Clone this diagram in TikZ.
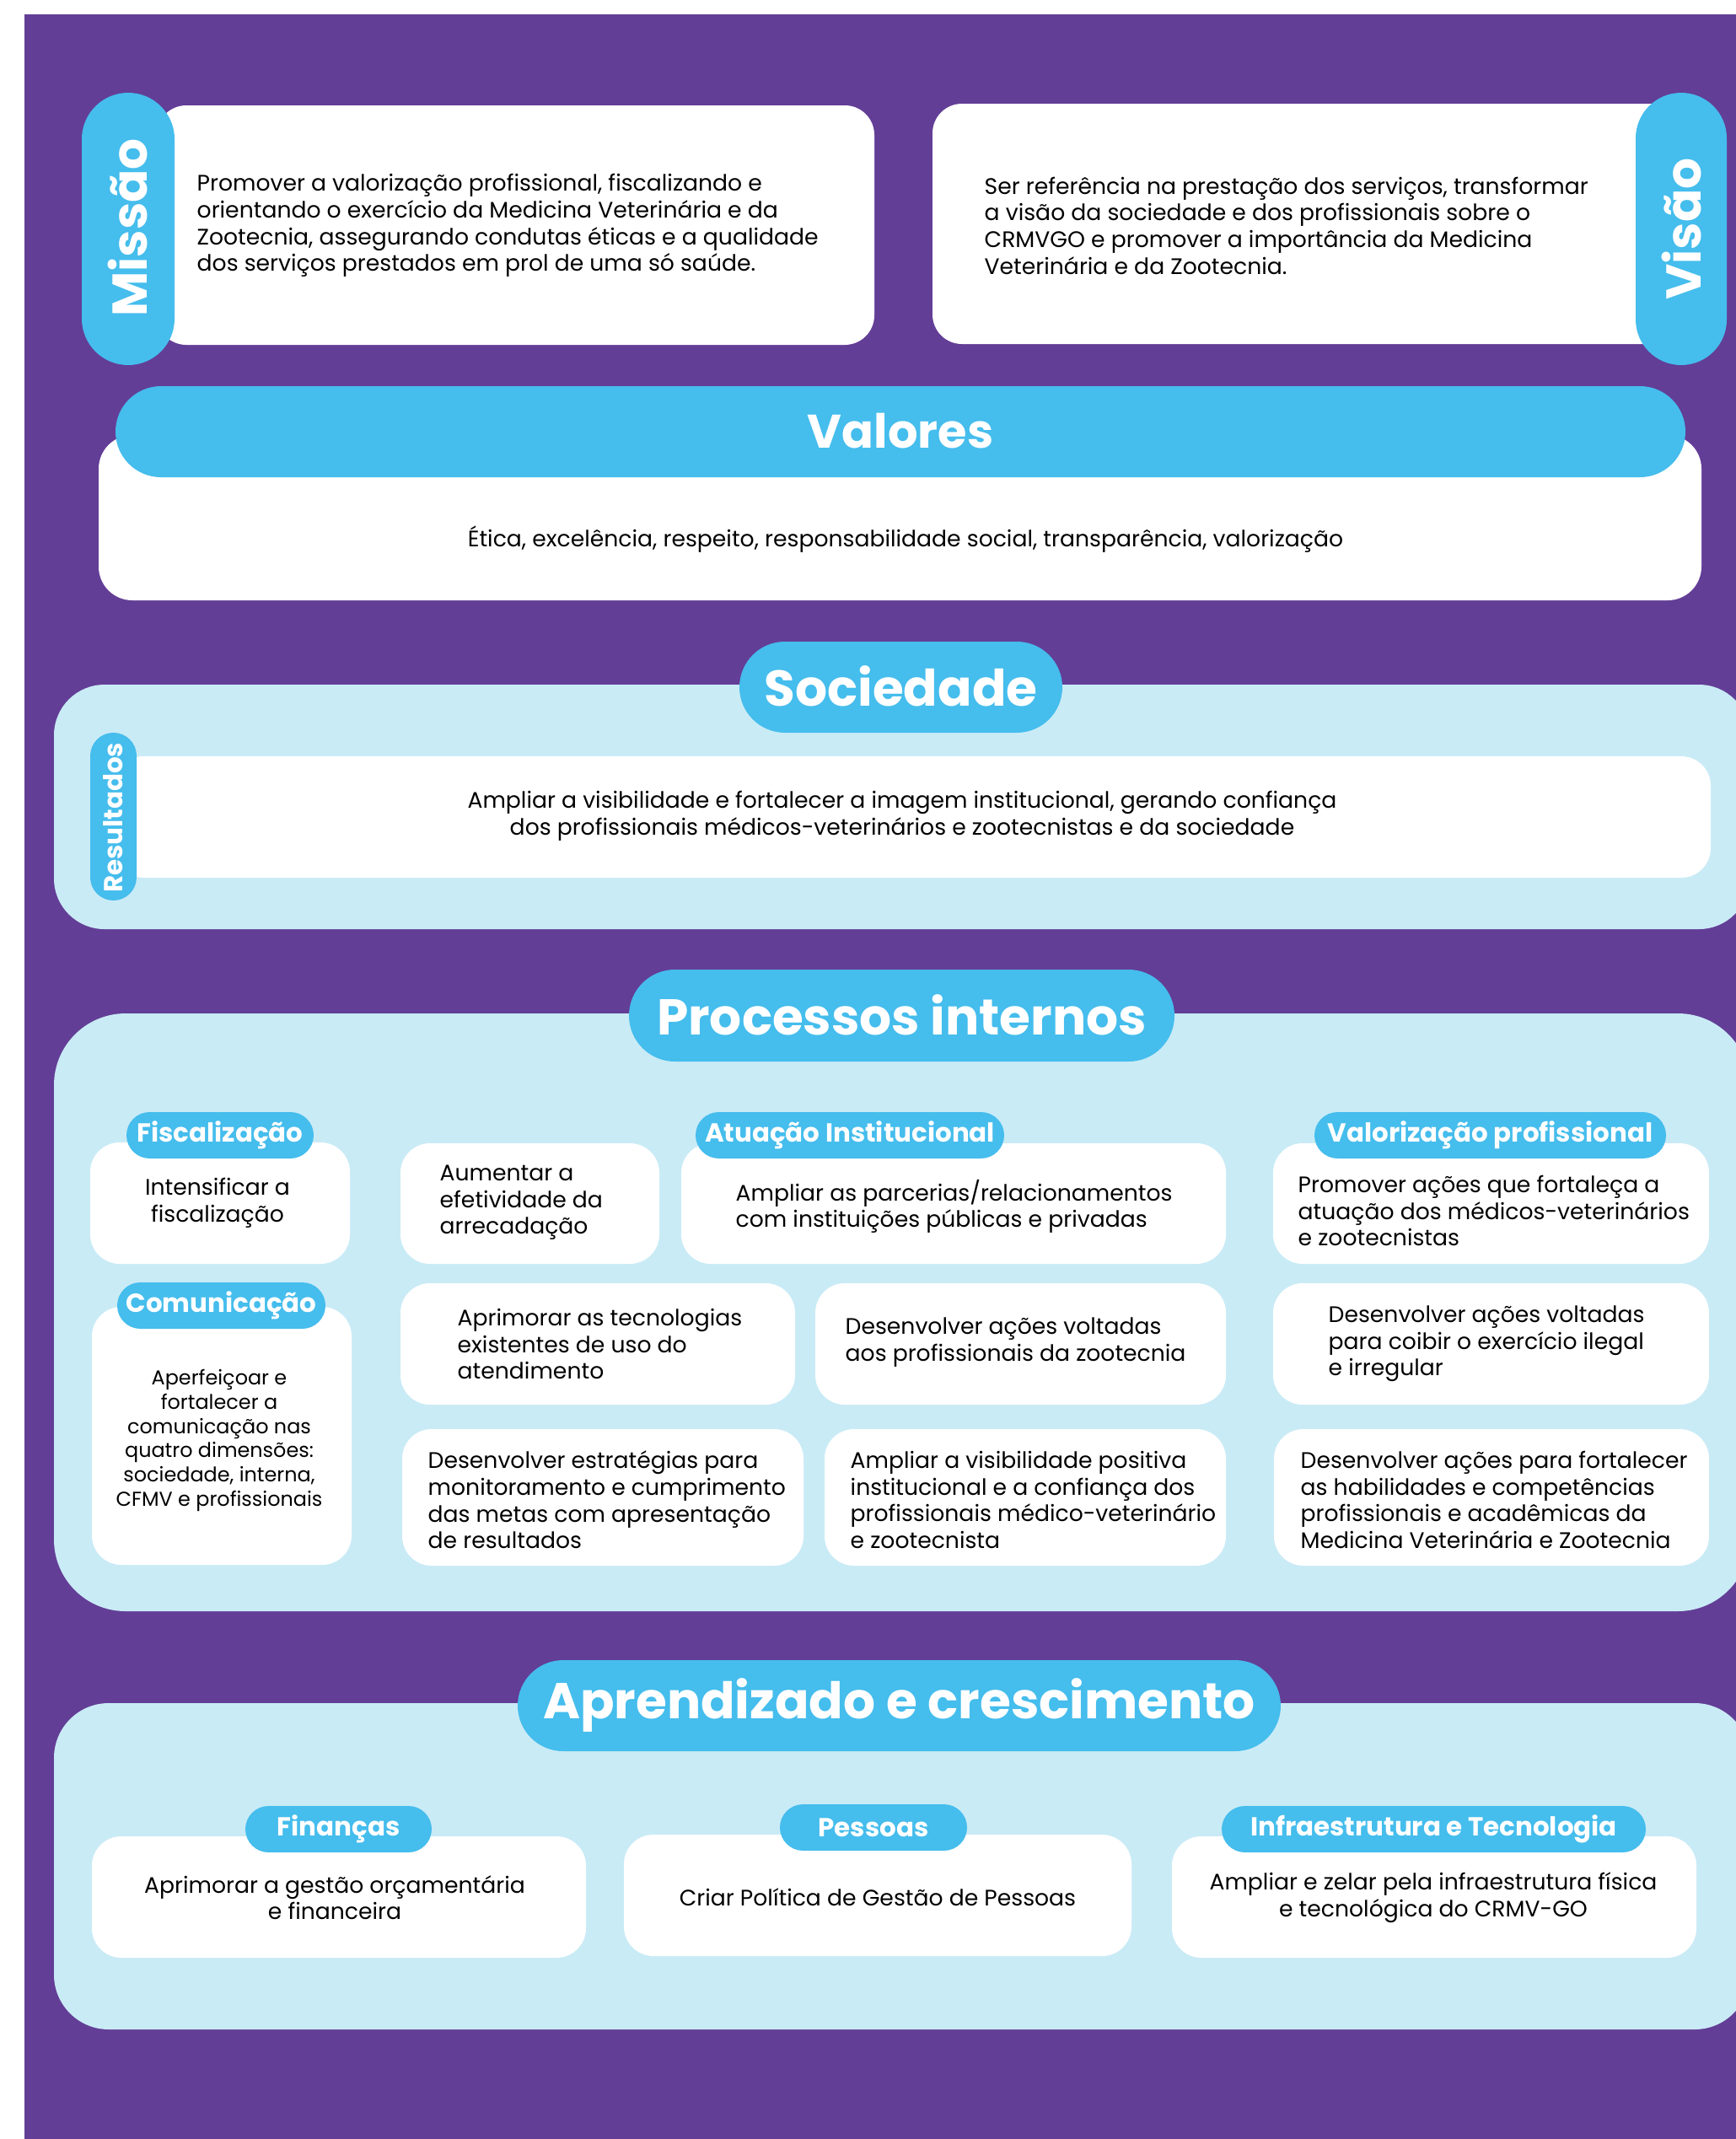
\documentclass[tikz,border=0pt]{standalone}
\usepackage{fontspec}
\setmainfont{Poppins}
\definecolor{roxo}{HTML}{633E96}
\definecolor{azul}{HTML}{45BDED}
\definecolor{celeste}{HTML}{C9EBF6}
\begin{document}
\begin{tikzpicture}[x=1cm,y=-1cm,
  panel/.style={fill=celeste, inner sep=0},
  card/.style={fill=white, rounded corners=0.35cm, inner sep=0},
  pill/.style={fill=azul, inner sep=0},
  title/.style={text=white, font=\fontsize{17}{20}\selectfont\bfseries},
  bigtitle/.style={text=white, font=\fontsize{16.5}{20}\selectfont\bfseries},
  tagtext/.style={text=white, inner sep=0, font=\fontsize{8.8}{10}\selectfont\bfseries},
  body/.style={font=\fontsize{7.58}{9}\selectfont, inner sep=0},
  small/.style={font=\fontsize{6.8}{8.2}\selectfont, inner sep=0}]
\useasboundingbox (0,0) rectangle (20.59,25.37);
\fill[white] (0,0) rectangle (20.59,25.37);
\fill[roxo] (0.29,0.17) rectangle (20.59,25.37);
\node[card, minimum width=8.51cm, minimum height=2.84cm] (missaobox) at (6.115,2.67) {};
\node[pill, minimum width=1.10cm, minimum height=3.23cm, rounded corners=0.55cm] (missaopill) at (1.52,2.715) {};
\node[bigtitle, rotate=90] (missao) at (1.52,2.70) {Missão};
\node[body, anchor=west, align=left] (missaotxt) at (2.33,2.675) {Promover a valorização profissional, fiscalizando e\\orientando o exercício da Medicina Veterinária e da\\Zootecnia, assegurando condutas éticas e a qualidade\\dos serviços prestados em prol de uma só saúde.};
\node[card, minimum width=8.84cm, minimum height=2.85cm] (visaobox) at (15.48,2.655) {};
\node[pill, minimum width=1.08cm, minimum height=3.23cm, rounded corners=0.54cm] (visaopill) at (19.94,2.715) {};
\node[bigtitle, rotate=90] (visao) at (19.94,2.715) {Visão};
\node[body, anchor=west, align=left] (visaotxt) at (11.67,2.675) {Ser referência na prestação dos serviços, transformar\\a visão da sociedade e dos profissionais sobre o\\CRMVGO e promover a importância da Medicina\\Veterinária e da Zootecnia.};
\node[card, minimum width=19.01cm, minimum height=1.96cm, rounded corners=0.4cm] (valoresbox) at (10.675,6.14) {};
\node[pill, minimum width=18.62cm, minimum height=1.08cm, rounded corners=0.54cm] (valorespill) at (10.68,5.12) {};
\node[title, font=\fontsize{15.9}{19}\selectfont\bfseries] (valores) at (10.68,5.11) {Valores};
\node[body] (valorestxt) at (10.74,6.40) {Ética, excelência, respeito, responsabilidade social, transparência, valorização};
\node[panel, minimum width=20.11cm, minimum height=2.90cm, rounded corners=0.6cm] (socpanel) at (10.695,9.57) {};
\node[pill, minimum width=3.83cm, minimum height=1.08cm, rounded corners=0.54cm] (socpill) at (10.685,8.15) {};
\node[title] (sociedade) at (10.685,8.14) {Sociedade};
\node[card, minimum width=18.94cm, minimum height=1.44cm] (socbox) at (10.82,9.69) {};
\node[pill, minimum width=0.55cm, minimum height=1.99cm, rounded corners=0.275cm] (respill) at (1.345,9.685) {};
\node[tagtext, rotate=90] (resultados) at (1.345,9.70) {Resultados};
\node[body, align=center] (soctxt) at (10.70,9.68) {Ampliar a visibilidade e fortalecer a imagem institucional, gerando confiança\\dos profissionais médicos-veterinários e zootecnistas e da sociedade};
\node[panel, minimum width=20.11cm, minimum height=7.09cm, rounded corners=0.85cm] (procpanel) at (10.695,15.565) {};
\node[pill, minimum width=6.47cm, minimum height=1.09cm, rounded corners=0.545cm] (procpill) at (10.695,12.045) {};
\node[title] (processos) at (10.695,12.035) {Processos internos};
\node[card, minimum width=3.08cm, minimum height=1.44cm] (fiscbox) at (2.61,14.27) {};
\node[card, minimum width=3.08cm, minimum height=3.06cm] (combox) at (2.63,17.03) {};
\node[card, minimum width=3.07cm, minimum height=1.43cm] (aumbox) at (6.285,14.275) {};
\node[card, minimum width=4.68cm, minimum height=1.44cm] (aprbox) at (7.09,15.94) {};
\node[card, minimum width=4.76cm, minimum height=1.62cm] (estbox) at (7.15,17.76) {};
\node[card, minimum width=6.46cm, minimum height=1.43cm] (atubox) at (11.31,14.275) {};
\node[card, minimum width=4.87cm, minimum height=1.44cm] (zoobox) at (12.105,15.94) {};
\node[card, minimum width=4.76cm, minimum height=1.62cm] (visbox) at (12.16,17.76) {};
\node[card, minimum width=5.17cm, minimum height=1.43cm] (valbox) at (17.685,14.275) {};
\node[card, minimum width=5.17cm, minimum height=1.44cm] (coibox) at (17.685,15.94) {};
\node[card, minimum width=5.16cm, minimum height=1.62cm] (forbox) at (17.69,17.76) {};
\node[pill, minimum width=2.22cm, minimum height=0.55cm, rounded corners=0.275cm] (fiscpill) at (2.61,13.465) {};
\node[tagtext] (fiscalizacao) at (2.61,13.465) {Fiscalização};
\node[pill, minimum width=2.47cm, minimum height=0.55cm, rounded corners=0.275cm] (compill) at (2.625,15.485) {};
\node[tagtext] (comunicacao) at (2.625,15.485) {Comunicação};
\node[pill, minimum width=3.66cm, minimum height=0.55cm, rounded corners=0.275cm] (atupill) at (10.08,13.465) {};
\node[tagtext] (atuacao) at (10.08,13.465) {Atuação Institucional};
\node[pill, minimum width=4.17cm, minimum height=0.55cm, rounded corners=0.275cm] (valpill) at (17.675,13.465) {};
\node[tagtext] (valorizacao) at (17.675,13.465) {Valorização profissional};
\node[body, align=center] (fisctxt) at (2.58,14.265) {Intensificar a\\fiscalização};
\node[body, anchor=west, align=left] (aumtxt) at (5.21,14.265) {Aumentar a\\efetividade da\\arrecadação};
\node[body, anchor=west, align=left] (atutxt) at (8.72,14.31) {Ampliar as parcerias/relacionamentos\\com instituições públicas e privadas};
\node[body, anchor=west, align=left] (valtxt) at (15.39,14.36) {Promover ações que fortaleça a\\atuação dos médicos-veterinários\\e zootecnistas};
\node[body, anchor=west, align=left] (aprtxt) at (5.42,15.94) {Aprimorar as tecnologias\\existentes de uso do\\atendimento};
\node[body, anchor=west, align=left] (zootxt) at (10.02,15.92) {Desenvolver ações voltadas\\aos profissionais da zootecnia};
\node[body, anchor=west, align=left] (coitxt) at (15.75,15.94) {Desenvolver ações voltadas\\para coibir o exercício ilegal\\e irregular};
\node[small, align=center] (comtxt) at (2.60,17.085) {Aperfeiçoar e\\fortalecer a\\comunicação nas\\quatro dimensões:\\sociedade, interna,\\CFMV e profissionais};
\node[body, anchor=west, align=left] (esttxt) at (5.07,17.79) {Desenvolver estratégias para\\monitoramento e cumprimento\\das metas com apresentação\\de resultados};
\node[body, anchor=west, align=left] (vistxt) at (10.08,17.79) {Ampliar a visibilidade positiva\\institucional e a confiança dos\\profissionais médico-veterinário\\e zootecnista};
\node[body, anchor=west, align=left] (fortxt) at (15.42,17.79) {Desenvolver ações para fortalecer\\as habilidades e competências\\profissionais e acadêmicas da\\Medicina Veterinária e Zootecnia};
\node[panel, minimum width=20.11cm, minimum height=3.87cm, rounded corners=0.65cm] (aprpanel) at (10.695,22.135) {};
\node[pill, minimum width=9.05cm, minimum height=1.08cm, rounded corners=0.54cm] (aprpill) at (10.665,20.23) {};
\node[title] (aprendizado) at (10.665,20.22) {Aprendizado e crescimento};
\node[card, minimum width=5.86cm, minimum height=1.44cm] (finbox) at (4.02,22.50) {};
\node[card, minimum width=6.02cm, minimum height=1.44cm] (pesbox) at (10.41,22.48) {};
\node[card, minimum width=6.22cm, minimum height=1.44cm] (infbox) at (17.01,22.50) {};
\node[pill, minimum width=2.21cm, minimum height=0.55cm, rounded corners=0.275cm] (finpill) at (4.015,21.695) {};
\node[tagtext] (financas) at (4.015,21.695) {Finanças};
\node[pill, minimum width=2.22cm, minimum height=0.55cm, rounded corners=0.275cm] (pespill) at (10.36,21.675) {};
\node[tagtext] (pessoas) at (10.36,21.675) {Pessoas};
\node[pill, minimum width=5.03cm, minimum height=0.55cm, rounded corners=0.275cm] (infpill) at (17.005,21.695) {};
\node[tagtext] (infra) at (17.005,21.695) {Infraestrutura e Tecnologia};
\node[body, align=center] (fintxt) at (3.97,22.505) {Aprimorar a gestão orçamentária\\e financeira};
\node[body] (pestxt) at (10.41,22.50) {Criar Política de Gestão de Pessoas};
\node[body, align=center] (inftxt) at (17.00,22.505) {Ampliar e zelar pela infraestrutura física\\e tecnológica do CRMV-GO};
\end{tikzpicture}
\end{document}
